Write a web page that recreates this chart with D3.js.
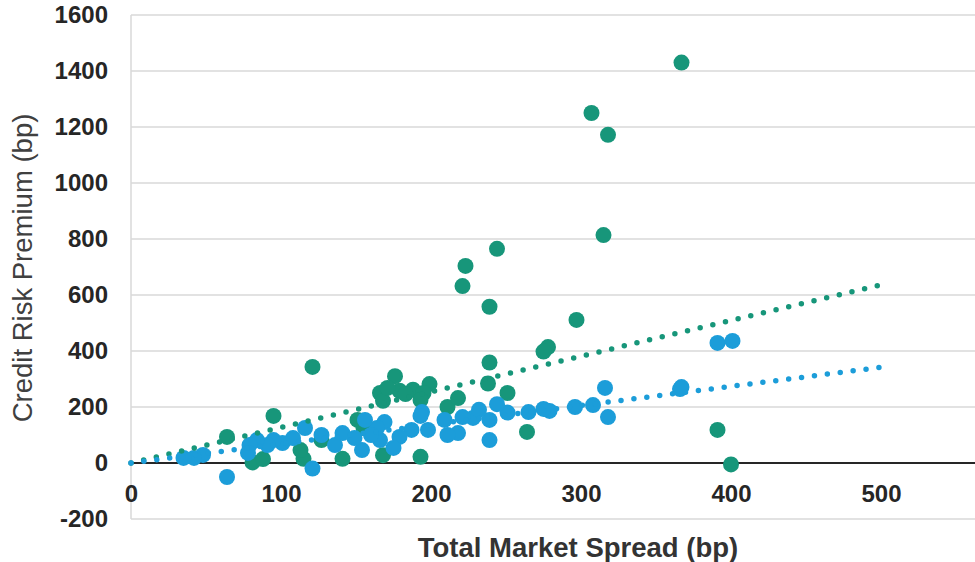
<!DOCTYPE html>
<html>
<head>
<meta charset="utf-8">
<script src="https://cdn.jsdelivr.net/npm/d3@7"></script>
<style>
  html, body { margin: 0; padding: 0; background: #ffffff; }
  svg { display: block; }
</style>
</head>
<body>
<svg id="chart" width="975" height="562"></svg>
<script>
// Total market spread (bp) vs. credit risk premium (bp), two series
const greenX = [367, 307, 318, 315, 244, 223, 221, 239, 297, 278, 275, 239, 238, 251, 264, 391, 400,
                121, 176, 166, 168, 179, 188, 199, 195, 193, 211, 218, 193, 168, 141, 127, 115, 113,
                151, 155, 95, 64, 81, 88, 183, 171];
const greenY = [1430, 1250, 1172, 814, 765, 704, 632, 558, 511, 414, 398, 359, 284, 250, 111, 118, -5,
                343, 310, 250, 222, 258, 262, 282, 250, 225, 200, 232, 22, 28, 15, 82, 15, 46,
                154, 125, 168, 93, 2, 14, 246, 268];

const blueX = [391, 401, 367, 366, 316, 318, 308, 296, 279, 275, 265, 251, 244, 239, 239, 228, 221,
               218, 211, 209, 198, 194, 193, 187, 179, 175, 169, 166, 164, 156, 154, 149, 141, 136,
               127, 121, 116, 108, 101, 95, 91, 84, 79, 78, 64, 48, 42, 35, 160, 232];
const blueY = [429, 436, 271, 264, 268, 164, 207, 200, 186, 193, 182, 180, 210, 154, 82, 161, 164,
               107, 100, 154, 118, 182, 168, 118, 93, 54, 146, 82, 125, 154, 46, 89, 107, 64,
               100, -20, 125, 89, 71, 82, 64, 82, 64, 36, -50, 29, 18, 18, 100, 190];

// Linear trendline end points
const trendX = [0, 500];
const greenTrend = [0, 636];
const blueTrend = [0, 342];

// Axis ticks
const xTicks = [0, 100, 200, 300, 400, 500];
const yTicks = [-200, 0, 200, 400, 600, 800, 1000, 1200, 1400, 1600];

const GREEN = "#17967a";
const BLUE = "#1c9dd9";
const FONT = "'Liberation Sans', Arial, sans-serif";

const svg = d3.select("#chart");
const x = d3.scaleLinear().domain([0, 600]).range([131, 1031]);
const y = d3.scaleLinear().domain([-200, 1600]).range([519, 15]);

// Horizontal gridlines
svg.append("g")
  .selectAll("line")
  .data(yTicks.filter(d => d !== 0))
  .join("line")
  .attr("x1", x(0)).attr("x2", x(600))
  .attr("y1", d => y(d)).attr("y2", d => y(d))
  .attr("stroke", "#d9d9d9").attr("stroke-width", 1.5);

// Left axis line
svg.append("line")
  .attr("x1", x(0)).attr("x2", x(0))
  .attr("y1", y(1600)).attr("y2", y(-200))
  .attr("stroke", "#d9d9d9").attr("stroke-width", 1.5);

// Zero line
svg.append("line")
  .attr("x1", x(0)).attr("x2", x(600))
  .attr("y1", y(0)).attr("y2", y(0))
  .attr("stroke", "#262626").attr("stroke-width", 2);

// Plain integer labels with an ASCII hyphen for negatives
const plain = d => String(d);

// Y tick labels
const yAxis = d3.axisLeft(y).tickValues(yTicks).tickFormat(plain).tickSize(0).tickPadding(0);
const gy = svg.append("g").attr("transform", "translate(108,0)").call(yAxis);
gy.select(".domain").remove();
gy.selectAll("text")
  .attr("font-family", FONT)
  .attr("font-weight", "bold")
  .attr("font-size", 24)
  .attr("fill", "#262626");

// X tick labels
const xAxis = d3.axisBottom(x).tickValues(xTicks).tickFormat(plain).tickSize(0).tickPadding(0);
const gx = svg.append("g").attr("transform", "translate(0,485)").call(xAxis);
gx.select(".domain").remove();
gx.selectAll("text")
  .attr("font-family", FONT)
  .attr("font-weight", "bold")
  .attr("font-size", 24)
  .attr("fill", "#262626");

// Axis titles
svg.append("text")
  .attr("x", 578).attr("y", 557)
  .attr("text-anchor", "middle")
  .attr("font-family", FONT)
  .attr("font-weight", "bold")
  .attr("font-size", 27.5)
  .attr("fill", "#333333")
  .text("Total Market Spread (bp)");

svg.append("text")
  .attr("transform", "translate(32,268) rotate(-90)")
  .attr("text-anchor", "middle")
  .attr("font-family", FONT)
  .attr("font-size", 27.5)
  .attr("fill", "#404040")
  .text("Credit Risk Premium (bp)");

// Scatter points
const greenPts = greenX.map((d, i) => [d, greenY[i]]);
const bluePts = blueX.map((d, i) => [d, blueY[i]]);

svg.append("g").selectAll("circle")
  .data(greenPts).join("circle")
  .attr("cx", d => x(d[0])).attr("cy", d => y(d[1]))
  .attr("r", 8).attr("fill", GREEN);

svg.append("g").selectAll("circle")
  .data(bluePts).join("circle")
  .attr("cx", d => x(d[0])).attr("cy", d => y(d[1]))
  .attr("r", 8).attr("fill", BLUE);

// Dotted trendlines
const line = d3.line().x(d => x(d[0])).y(d => y(d[1]));
[[greenTrend, GREEN], [blueTrend, BLUE]].forEach(([vals, color]) => {
  svg.append("path")
    .datum(trendX.map((d, i) => [d, vals[i]]))
    .attr("d", line)
    .attr("fill", "none")
    .attr("stroke", color)
    .attr("stroke-width", 5.5)
    .attr("stroke-linecap", "round")
    .attr("stroke-dasharray", "0 13");
});
</script>
</body>
</html>
